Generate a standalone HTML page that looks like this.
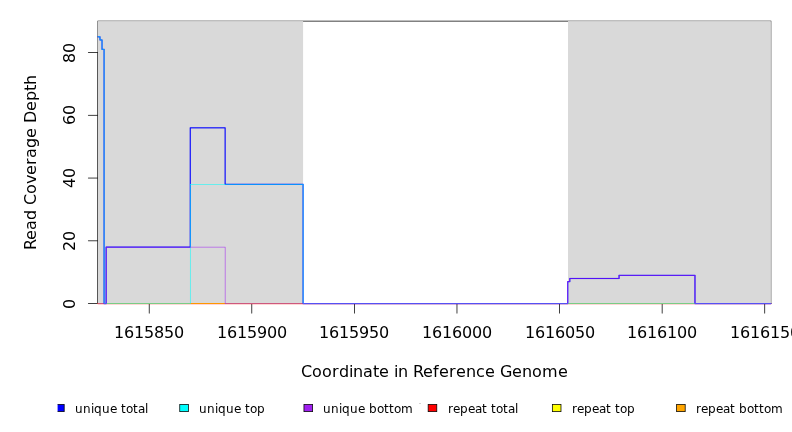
<!DOCTYPE html>
<html lang="en">
<head>
<meta charset="utf-8">
<title>Read Coverage Depth</title>
<style>
html,body{margin:0;padding:0;background:#fff;}
body{width:792px;height:432px;overflow:hidden;position:relative;font-family:"DejaVu Sans","Liberation Sans",sans-serif;}
svg{display:block;position:absolute;left:0;top:0;}
</style>
</head>
<body>
<svg width="792" height="432" viewBox="0 0 792 432">
<rect x="0" y="0" width="792" height="432" fill="#fff"/>
<g shape-rendering="crispEdges">
<path fill="#000" fill-opacity="0.067" d="M771 20h1v1h-1z"/>
<path fill="#000" fill-opacity="0.118" d="M97 20h1v1h-1z"/>
<path fill="#000" fill-opacity="0.247" d="M771 303h1v1h-1z"/>
<path fill="#000" fill-opacity="0.255" d="M98 20h673v1h-673zM771 21h1v282h-1z"/>
<path fill="#000" fill-opacity="0.294" d="M98 22h1v281h-1z"/>
<path fill="#000" fill-opacity="0.443" d="M97 303h1v1h-1z"/>
<path fill="#000" fill-opacity="0.455" d="M97 21h1v282h-1z"/>
<path fill="#000" fill-opacity="0.494" d="M99 21h671v1h-671zM770 22h1v281h-1z"/>
<path fill="#000" fill-opacity="0.643" d="M98 21h1v1h-1z"/>
<path fill="#000" fill-opacity="0.745" d="M770 21h1v1h-1z"/>
<path fill="#000" fill-opacity="0.749" d="M99 303h671v1h-671z"/>
<path fill="#000" fill-opacity="0.816" d="M98 303h1v1h-1z"/>
<path fill="#000" fill-opacity="0.863" d="M770 303h1v1h-1z"/>
<path fill="#000" fill-opacity="0.224" d="M98 52h1v1h-1z"/>
<path fill="#000" fill-opacity="0.259" d="M98 303h1v1h-1z"/>
<path fill="#000" fill-opacity="0.294" d="M98 53h1v250h-1z"/>
<path fill="#000" fill-opacity="0.365" d="M97 52h1v1h-1z"/>
<path fill="#000" fill-opacity="0.416" d="M97 303h1v1h-1z"/>
<path fill="#000" fill-opacity="0.455" d="M97 53h1v250h-1z"/>
<path fill="#000" fill-opacity="0.016" d="M87 303h1v1h-1z"/>
<path fill="#000" fill-opacity="0.161" d="M98 303h1v1h-1z"/>
<path fill="#000" fill-opacity="0.71" d="M88 303h1v1h-1z"/>
<path fill="#000" fill-opacity="0.749" d="M89 303h8v1h-8z"/>
<path fill="#000" fill-opacity="0.761" d="M97 303h1v1h-1z"/>
<path fill="#000" fill-opacity="0.016" d="M87 240h1v1h-1z"/>
<path fill="#000" fill-opacity="0.031" d="M98 241h1v1h-1z"/>
<path fill="#000" fill-opacity="0.125" d="M98 240h1v1h-1z"/>
<path fill="#000" fill-opacity="0.18" d="M88 241h1v1h-1z"/>
<path fill="#000" fill-opacity="0.2" d="M89 241h8v1h-8z"/>
<path fill="#000" fill-opacity="0.204" d="M97 241h1v1h-1z"/>
<path fill="#000" fill-opacity="0.529" d="M88 240h1v1h-1z"/>
<path fill="#000" fill-opacity="0.549" d="M89 240h8v1h-8z"/>
<path fill="#000" fill-opacity="0.557" d="M97 240h1v1h-1z"/>
<path fill="#000" fill-opacity="0.004" d="M87 177h1v1h-1z"/>
<path fill="#000" fill-opacity="0.012" d="M87 178h1v1h-1z"/>
<path fill="#000" fill-opacity="0.067" d="M98 177h1v1h-1z"/>
<path fill="#000" fill-opacity="0.094" d="M98 178h1v1h-1z"/>
<path fill="#000" fill-opacity="0.302" d="M88 177h1v1h-1z"/>
<path fill="#000" fill-opacity="0.322" d="M89 177h8v1h-8z"/>
<path fill="#000" fill-opacity="0.325" d="M97 177h1v1h-1z"/>
<path fill="#000" fill-opacity="0.408" d="M88 178h1v1h-1z"/>
<path fill="#000" fill-opacity="0.427" d="M89 178h8v1h-8z"/>
<path fill="#000" fill-opacity="0.435" d="M97 178h1v1h-1z"/>
<path fill="#000" fill-opacity="0.008" d="M98 114h1v1h-1z"/>
<path fill="#000" fill-opacity="0.016" d="M87 115h1v1h-1z"/>
<path fill="#000" fill-opacity="0.078" d="M88 114h1v1h-1z"/>
<path fill="#000" fill-opacity="0.094" d="M89 114h8v1h-8z"/>
<path fill="#000" fill-opacity="0.098" d="M97 114h1v1h-1z"/>
<path fill="#000" fill-opacity="0.153" d="M98 115h1v1h-1z"/>
<path fill="#000" fill-opacity="0.631" d="M88 115h1v1h-1z"/>
<path fill="#000" fill-opacity="0.655" d="M89 115h8v1h-8z"/>
<path fill="#000" fill-opacity="0.663" d="M97 115h1v1h-1z"/>
<path fill="#000" fill-opacity="0.016" d="M87 52h1v1h-1z"/>
<path fill="#000" fill-opacity="0.161" d="M98 52h1v1h-1z"/>
<path fill="#000" fill-opacity="0.71" d="M88 52h1v1h-1z"/>
<path fill="#000" fill-opacity="0.749" d="M89 52h8v1h-8z"/>
<path fill="#000" fill-opacity="0.761" d="M97 52h1v1h-1z"/>
<path fill="#000" fill-opacity="0.035" d="M765 303h1v1h-1z"/>
<path fill="#000" fill-opacity="0.071" d="M148 303h1v1h-1z"/>
<path fill="#000" fill-opacity="0.737" d="M764 303h1v1h-1z"/>
<path fill="#000" fill-opacity="0.749" d="M149 303h615v1h-615z"/>
<path fill="#000" fill-opacity="0.071" d="M148 313h1v1h-1z"/>
<path fill="#000" fill-opacity="0.102" d="M148 303h1v1h-1z"/>
<path fill="#000" fill-opacity="0.165" d="M148 304h1v9h-1z"/>
<path fill="#000" fill-opacity="0.31" d="M149 313h1v1h-1z"/>
<path fill="#000" fill-opacity="0.416" d="M149 303h1v1h-1z"/>
<path fill="#000" fill-opacity="0.584" d="M149 304h1v9h-1z"/>
<path fill="#000" fill-opacity="0.071" d="M252 313h1v1h-1z"/>
<path fill="#000" fill-opacity="0.106" d="M252 303h1v1h-1z"/>
<path fill="#000" fill-opacity="0.173" d="M252 304h1v9h-1z"/>
<path fill="#000" fill-opacity="0.302" d="M251 313h1v1h-1z"/>
<path fill="#000" fill-opacity="0.412" d="M251 303h1v1h-1z"/>
<path fill="#000" fill-opacity="0.58" d="M251 304h1v9h-1z"/>
<path fill="#000" fill-opacity="0.38" d="M354 313h1v1h-1z"/>
<path fill="#000" fill-opacity="0.518" d="M354 303h1v1h-1z"/>
<path fill="#000" fill-opacity="0.749" d="M354 304h1v9h-1z"/>
<path fill="#000" fill-opacity="0.173" d="M457 313h1v1h-1z"/>
<path fill="#000" fill-opacity="0.208" d="M456 313h1v1h-1z"/>
<path fill="#000" fill-opacity="0.235" d="M457 303h1v1h-1z"/>
<path fill="#000" fill-opacity="0.282" d="M456 303h1v1h-1z"/>
<path fill="#000" fill-opacity="0.345" d="M457 304h1v9h-1z"/>
<path fill="#000" fill-opacity="0.404" d="M456 304h1v9h-1z"/>
<path fill="#000" fill-opacity="0.38" d="M559 313h1v1h-1z"/>
<path fill="#000" fill-opacity="0.518" d="M559 303h1v1h-1z"/>
<path fill="#000" fill-opacity="0.749" d="M559 304h1v9h-1z"/>
<path fill="#000" fill-opacity="0.106" d="M661 313h1v1h-1z"/>
<path fill="#000" fill-opacity="0.149" d="M661 303h1v1h-1z"/>
<path fill="#000" fill-opacity="0.231" d="M661 304h1v9h-1z"/>
<path fill="#000" fill-opacity="0.271" d="M662 313h1v1h-1z"/>
<path fill="#000" fill-opacity="0.369" d="M662 303h1v1h-1z"/>
<path fill="#000" fill-opacity="0.518" d="M662 304h1v9h-1z"/>
<path fill="#000" fill-opacity="0.039" d="M765 313h1v1h-1z"/>
<path fill="#000" fill-opacity="0.059" d="M765 303h1v1h-1z"/>
<path fill="#000" fill-opacity="0.106" d="M765 304h1v9h-1z"/>
<path fill="#000" fill-opacity="0.337" d="M764 313h1v1h-1z"/>
<path fill="#000" fill-opacity="0.459" d="M764 303h1v1h-1z"/>
<path fill="#000" fill-opacity="0.647" d="M764 304h1v9h-1z"/>
<path fill="#d9d9d9" fill-opacity="0.047" d="M97 303h1v1h-1z"/>
<path fill="#d9d9d9" fill-opacity="0.055" d="M303 303h1v1h-1z"/>
<path fill="#d9d9d9" fill-opacity="0.071" d="M97 21h1v1h-1z"/>
<path fill="#d9d9d9" fill-opacity="0.078" d="M303 21h1v1h-1zM97 22h1v281h-1z"/>
<path fill="#d9d9d9" fill-opacity="0.09" d="M303 22h1v281h-1z"/>
<path fill="#d9d9d9" fill-opacity="0.6" d="M98 303h205v1h-205z"/>
<path fill="#d9d9d9" fill-opacity="0.878" d="M98 21h205v1h-205z"/>
<path fill="#d9d9d9" d="M98 22h205v281h-205z"/>
<path fill="#d9d9d9" fill-opacity="0.529" d="M770 303h1v1h-1z"/>
<path fill="#d9d9d9" fill-opacity="0.6" d="M568 303h202v1h-202z"/>
<path fill="#d9d9d9" fill-opacity="0.773" d="M770 21h1v1h-1z"/>
<path fill="#d9d9d9" fill-opacity="0.878" d="M568 21h202v1h-202zM770 22h1v281h-1z"/>
<path fill="#d9d9d9" d="M568 22h202v281h-202z"/>
<path fill="#ff0000" fill-opacity="0.024" d="M771 304h1v1h-1z"/>
<path fill="#ff0000" fill-opacity="0.055" d="M97 304h1v1h-1z"/>
<path fill="#ff0000" fill-opacity="0.161" d="M98 304h672v1h-672z"/>
<path fill="#ff0000" fill-opacity="0.165" d="M770 304h1v1h-1z"/>
<path fill="#ff0000" fill-opacity="0.341" d="M771 303h1v1h-1z"/>
<path fill="#ff0000" fill-opacity="0.522" d="M97 303h1v1h-1z"/>
<path fill="#ff0000" fill-opacity="0.961" d="M98 303h672v1h-672z"/>
<path fill="#ff0000" fill-opacity="0.973" d="M770 303h1v1h-1z"/>
<path fill="#ffff00" fill-opacity="0.051" d="M771 303h1v1h-1z"/>
<path fill="#ffff00" fill-opacity="0.149" d="M97 303h1v1h-1z"/>
<path fill="#ffff00" fill-opacity="0.525" d="M98 303h672v1h-672z"/>
<path fill="#ffff00" fill-opacity="0.529" d="M770 303h1v1h-1z"/>
<path fill="#ffa500" fill-opacity="0.051" d="M771 303h1v1h-1z"/>
<path fill="#ffa500" fill-opacity="0.149" d="M97 303h1v1h-1z"/>
<path fill="#ffa500" fill-opacity="0.525" d="M98 303h672v1h-672z"/>
<path fill="#ffa500" fill-opacity="0.529" d="M770 303h1v1h-1z"/>
<path fill="#0000ff" fill-opacity="0.004" d="M619 279h1v1h-1z"/>
<path fill="#0000ff" fill-opacity="0.016" d="M568 304h1v1h-1z"/>
<path fill="#0000ff" fill-opacity="0.024" d="M570 282h1v1h-1zM771 304h1v1h-1z"/>
<path fill="#0000ff" fill-opacity="0.031" d="M569 277h1v1h-1z"/>
<path fill="#0000ff" fill-opacity="0.035" d="M103 304h1v1h-1zM302 304h1v1h-1z"/>
<path fill="#0000ff" fill-opacity="0.051" d="M618 274h1v1h-1zM694 304h1v1h-1z"/>
<path fill="#0000ff" fill-opacity="0.055" d="M695 274h1v1h-1zM571 279h48v1h-48z"/>
<path fill="#0000ff" fill-opacity="0.067" d="M106 304h1v1h-1z"/>
<path fill="#0000ff" fill-opacity="0.071" d="M570 277h48v1h-48z"/>
<path fill="#0000ff" fill-opacity="0.075" d="M104 48h1v1h-1z"/>
<path fill="#0000ff" fill-opacity="0.102" d="M303 183h1v1h-1z"/>
<path fill="#0000ff" fill-opacity="0.129" d="M105 246h1v1h-1z"/>
<path fill="#0000ff" fill-opacity="0.161" d="M104 304h2v1h-2zM303 304h265v1h-265zM695 304h75v1h-75z"/>
<path fill="#0000ff" fill-opacity="0.165" d="M770 304h1v1h-1z"/>
<path fill="#0000ff" fill-opacity="0.173" d="M97 37h1v1h-1zM189 127h1v1h-1z"/>
<path fill="#0000ff" fill-opacity="0.192" d="M569 282h1v1h-1z"/>
<path fill="#0000ff" fill-opacity="0.196" d="M103 48h1v1h-1z"/>
<path fill="#0000ff" fill-opacity="0.212" d="M619 274h76v1h-76z"/>
<path fill="#0000ff" fill-opacity="0.231" d="M226 183h77v1h-77z"/>
<path fill="#0000ff" fill-opacity="0.243" d="M99 40h1v1h-1z"/>
<path fill="#0000ff" fill-opacity="0.275" d="M102 39h1v1h-1z"/>
<path fill="#0000ff" fill-opacity="0.31" d="M568 303h1v1h-1z"/>
<path fill="#0000ff" fill-opacity="0.318" d="M224 184h1v1h-1zM189 128h1v118h-1z"/>
<path fill="#0000ff" fill-opacity="0.325" d="M568 283h1v20h-1z"/>
<path fill="#0000ff" fill-opacity="0.329" d="M100 36h1v1h-1z"/>
<path fill="#0000ff" fill-opacity="0.341" d="M771 303h1v1h-1z"/>
<path fill="#0000ff" fill-opacity="0.361" d="M570 281h1v1h-1z"/>
<path fill="#0000ff" fill-opacity="0.376" d="M98 37h1v1h-1zM570 280h1v1h-1z"/>
<path fill="#0000ff" fill-opacity="0.396" d="M191 128h33v1h-33z"/>
<path fill="#0000ff" fill-opacity="0.408" d="M97 36h1v1h-1z"/>
<path fill="#0000ff" fill-opacity="0.412" d="M570 279h1v1h-1z"/>
<path fill="#0000ff" fill-opacity="0.435" d="M225 127h1v1h-1z"/>
<path fill="#0000ff" fill-opacity="0.439" d="M101 49h1v1h-1zM224 129h1v55h-1zM105 247h1v56h-1z"/>
<path fill="#0000ff" fill-opacity="0.455" d="M568 282h1v1h-1zM302 303h1v1h-1z"/>
<path fill="#0000ff" fill-opacity="0.459" d="M106 246h83v1h-83z"/>
<path fill="#0000ff" fill-opacity="0.467" d="M103 303h1v1h-1z"/>
<path fill="#0000ff" fill-opacity="0.475" d="M190 247h1v1h-1zM302 185h1v118h-1z"/>
<path fill="#0000ff" fill-opacity="0.49" d="M103 50h1v253h-1z"/>
<path fill="#0000ff" fill-opacity="0.494" d="M618 275h1v1h-1z"/>
<path fill="#0000ff" fill-opacity="0.506" d="M618 276h1v1h-1z"/>
<path fill="#0000ff" fill-opacity="0.514" d="M100 40h1v1h-1z"/>
<path fill="#0000ff" fill-opacity="0.518" d="M695 275h1v1h-1z"/>
<path fill="#0000ff" fill-opacity="0.529" d="M100 37h1v2h-1z"/>
<path fill="#0000ff" fill-opacity="0.533" d="M695 276h1v27h-1z"/>
<path fill="#0000ff" fill-opacity="0.541" d="M101 41h1v8h-1zM618 277h1v1h-1z"/>
<path fill="#0000ff" fill-opacity="0.569" d="M619 278h1v1h-1z"/>
<path fill="#0000ff" fill-opacity="0.573" d="M694 303h1v1h-1z"/>
<path fill="#0000ff" fill-opacity="0.584" d="M102 40h1v8h-1z"/>
<path fill="#0000ff" fill-opacity="0.592" d="M99 38h1v2h-1zM694 276h1v27h-1z"/>
<path fill="#0000ff" fill-opacity="0.612" d="M101 39h1v1h-1z"/>
<path fill="#0000ff" fill-opacity="0.62" d="M619 276h1v2h-1z"/>
<path fill="#0000ff" fill-opacity="0.624" d="M104 49h1v1h-1z"/>
<path fill="#0000ff" fill-opacity="0.631" d="M189 246h1v1h-1z"/>
<path fill="#0000ff" fill-opacity="0.635" d="M104 50h1v253h-1z"/>
<path fill="#0000ff" fill-opacity="0.639" d="M303 184h1v1h-1z"/>
<path fill="#0000ff" fill-opacity="0.651" d="M303 185h1v118h-1z"/>
<path fill="#0000ff" fill-opacity="0.663" d="M102 48h1v1h-1zM224 128h1v1h-1zM106 303h1v1h-1z"/>
<path fill="#0000ff" fill-opacity="0.667" d="M107 247h83v1h-83zM567 281h1v1h-1z"/>
<path fill="#0000ff" fill-opacity="0.686" d="M225 128h1v55h-1zM106 248h1v55h-1z"/>
<path fill="#0000ff" fill-opacity="0.706" d="M569 278h1v1h-1z"/>
<path fill="#0000ff" fill-opacity="0.725" d="M190 127h1v1h-1z"/>
<path fill="#0000ff" fill-opacity="0.729" d="M191 127h34v1h-34z"/>
<path fill="#0000ff" fill-opacity="0.745" d="M99 37h1v1h-1z"/>
<path fill="#0000ff" fill-opacity="0.749" d="M98 36h2v1h-2zM569 279h1v2h-1z"/>
<path fill="#0000ff" fill-opacity="0.761" d="M225 183h1v1h-1z"/>
<path fill="#0000ff" fill-opacity="0.776" d="M101 40h1v1h-1z"/>
<path fill="#0000ff" fill-opacity="0.8" d="M567 282h1v21h-1z"/>
<path fill="#0000ff" fill-opacity="0.808" d="M190 129h1v118h-1z"/>
<path fill="#0000ff" fill-opacity="0.816" d="M100 39h1v1h-1z"/>
<path fill="#0000ff" fill-opacity="0.882" d="M190 128h1v1h-1z"/>
<path fill="#0000ff" fill-opacity="0.89" d="M225 184h1v1h-1z"/>
<path fill="#0000ff" fill-opacity="0.894" d="M226 184h76v1h-76zM106 247h1v1h-1z"/>
<path fill="#0000ff" fill-opacity="0.914" d="M620 275h74v1h-74z"/>
<path fill="#0000ff" fill-opacity="0.929" d="M102 49h1v1h-1z"/>
<path fill="#0000ff" fill-opacity="0.933" d="M568 281h1v1h-1z"/>
<path fill="#0000ff" fill-opacity="0.945" d="M302 184h1v1h-1z"/>
<path fill="#0000ff" fill-opacity="0.961" d="M304 303h263v1h-263zM696 303h74v1h-74z"/>
<path fill="#0000ff" fill-opacity="0.965" d="M103 49h1v1h-1zM694 275h1v1h-1z"/>
<path fill="#0000ff" fill-opacity="0.969" d="M619 275h1v1h-1z"/>
<path fill="#0000ff" fill-opacity="0.973" d="M770 303h1v1h-1z"/>
<path fill="#0000ff" fill-opacity="0.98" d="M105 303h1v1h-1z"/>
<path fill="#0000ff" fill-opacity="0.984" d="M569 281h1v1h-1zM695 303h1v1h-1z"/>
<path fill="#0000ff" fill-opacity="0.988" d="M104 303h1v1h-1zM303 303h1v1h-1z"/>
<path fill="#0000ff" fill-opacity="0.992" d="M567 303h1v1h-1z"/>
<path fill="#0000ff" d="M570 278h49v1h-49z"/>
<path fill="#00ffff" fill-opacity="0.012" d="M189 184h1v1h-1z"/>
<path fill="#00ffff" fill-opacity="0.016" d="M97 37h1v1h-1z"/>
<path fill="#00ffff" fill-opacity="0.02" d="M189 185h1v118h-1z"/>
<path fill="#00ffff" fill-opacity="0.051" d="M99 40h1v1h-1zM771 303h1v1h-1z"/>
<path fill="#00ffff" fill-opacity="0.075" d="M98 37h1v1h-1zM102 39h1v1h-1z"/>
<path fill="#00ffff" fill-opacity="0.094" d="M100 36h1v1h-1z"/>
<path fill="#00ffff" fill-opacity="0.129" d="M97 36h1v1h-1zM302 303h1v1h-1z"/>
<path fill="#00ffff" fill-opacity="0.137" d="M101 49h1v1h-1z"/>
<path fill="#00ffff" fill-opacity="0.149" d="M103 303h1v1h-1z"/>
<path fill="#00ffff" fill-opacity="0.173" d="M302 185h1v118h-1z"/>
<path fill="#00ffff" fill-opacity="0.192" d="M103 50h1v253h-1z"/>
<path fill="#00ffff" fill-opacity="0.216" d="M100 40h1v1h-1z"/>
<path fill="#00ffff" fill-opacity="0.231" d="M100 37h1v2h-1z"/>
<path fill="#00ffff" fill-opacity="0.243" d="M101 41h1v8h-1z"/>
<path fill="#00ffff" fill-opacity="0.282" d="M102 40h1v9h-1zM104 49h1v1h-1z"/>
<path fill="#00ffff" fill-opacity="0.294" d="M99 38h1v2h-1z"/>
<path fill="#00ffff" fill-opacity="0.31" d="M101 39h1v1h-1z"/>
<path fill="#00ffff" fill-opacity="0.314" d="M303 184h1v1h-1z"/>
<path fill="#00ffff" fill-opacity="0.333" d="M104 50h1v253h-1z"/>
<path fill="#00ffff" fill-opacity="0.349" d="M99 37h1v1h-1z"/>
<path fill="#00ffff" fill-opacity="0.353" d="M303 185h1v118h-1z"/>
<path fill="#00ffff" fill-opacity="0.404" d="M101 40h1v1h-1z"/>
<path fill="#00ffff" fill-opacity="0.42" d="M190 303h1v1h-1z"/>
<path fill="#00ffff" fill-opacity="0.451" d="M98 36h2v1h-2z"/>
<path fill="#00ffff" fill-opacity="0.471" d="M100 39h1v1h-1z"/>
<path fill="#00ffff" fill-opacity="0.506" d="M190 185h1v118h-1z"/>
<path fill="#00ffff" fill-opacity="0.525" d="M191 184h111v1h-111zM105 303h84v1h-84zM304 303h466v1h-466z"/>
<path fill="#00ffff" fill-opacity="0.529" d="M189 303h1v1h-1zM770 303h1v1h-1z"/>
<path fill="#00ffff" fill-opacity="0.553" d="M102 49h1v1h-1z"/>
<path fill="#00ffff" fill-opacity="0.596" d="M103 49h1v1h-1zM302 184h1v1h-1z"/>
<path fill="#00ffff" fill-opacity="0.635" d="M104 303h1v1h-1z"/>
<path fill="#00ffff" fill-opacity="0.643" d="M303 303h1v1h-1z"/>
<path fill="#00ffff" fill-opacity="0.722" d="M190 184h1v1h-1z"/>
<path fill="#a020f0" fill-opacity="0.012" d="M105 246h1v1h-1z"/>
<path fill="#a020f0" fill-opacity="0.016" d="M568 303h1v1h-1z"/>
<path fill="#a020f0" fill-opacity="0.024" d="M568 282h1v21h-1z"/>
<path fill="#a020f0" fill-opacity="0.051" d="M225 246h1v1h-1zM771 303h1v1h-1z"/>
<path fill="#a020f0" fill-opacity="0.063" d="M570 281h1v1h-1z"/>
<path fill="#a020f0" fill-opacity="0.078" d="M570 279h1v2h-1z"/>
<path fill="#a020f0" fill-opacity="0.106" d="M224 303h1v1h-1z"/>
<path fill="#a020f0" fill-opacity="0.137" d="M105 247h1v56h-1zM224 248h1v55h-1z"/>
<path fill="#a020f0" fill-opacity="0.149" d="M97 303h1v1h-1z"/>
<path fill="#a020f0" fill-opacity="0.157" d="M106 246h119v1h-119z"/>
<path fill="#a020f0" fill-opacity="0.169" d="M618 275h1v1h-1z"/>
<path fill="#a020f0" fill-opacity="0.2" d="M695 275h1v1h-1z"/>
<path fill="#a020f0" fill-opacity="0.208" d="M618 276h1v2h-1z"/>
<path fill="#a020f0" fill-opacity="0.227" d="M619 278h1v1h-1z"/>
<path fill="#a020f0" fill-opacity="0.231" d="M695 276h1v27h-1z"/>
<path fill="#a020f0" fill-opacity="0.235" d="M694 303h1v1h-1z"/>
<path fill="#a020f0" fill-opacity="0.294" d="M694 276h1v27h-1z"/>
<path fill="#a020f0" fill-opacity="0.306" d="M567 281h1v1h-1z"/>
<path fill="#a020f0" fill-opacity="0.318" d="M619 276h1v2h-1zM106 303h1v1h-1z"/>
<path fill="#a020f0" fill-opacity="0.333" d="M569 278h1v1h-1z"/>
<path fill="#a020f0" fill-opacity="0.365" d="M107 247h117v1h-117z"/>
<path fill="#a020f0" fill-opacity="0.384" d="M106 248h1v55h-1z"/>
<path fill="#a020f0" fill-opacity="0.388" d="M225 247h1v56h-1z"/>
<path fill="#a020f0" fill-opacity="0.447" d="M569 279h1v2h-1z"/>
<path fill="#a020f0" fill-opacity="0.455" d="M224 247h1v1h-1z"/>
<path fill="#a020f0" fill-opacity="0.498" d="M567 282h1v21h-1z"/>
<path fill="#a020f0" fill-opacity="0.525" d="M620 275h74v1h-74zM571 278h47v1h-47zM98 303h7v1h-7zM226 303h341v1h-341zM696 303h74v1h-74z"/>
<path fill="#a020f0" fill-opacity="0.529" d="M568 281h1v1h-1zM770 303h1v1h-1z"/>
<path fill="#a020f0" fill-opacity="0.545" d="M570 278h1v1h-1z"/>
<path fill="#a020f0" fill-opacity="0.573" d="M618 278h1v1h-1zM105 303h1v1h-1z"/>
<path fill="#a020f0" fill-opacity="0.604" d="M695 303h1v1h-1z"/>
<path fill="#a020f0" fill-opacity="0.612" d="M106 247h1v1h-1z"/>
<path fill="#a020f0" fill-opacity="0.639" d="M694 275h1v1h-1z"/>
<path fill="#a020f0" fill-opacity="0.647" d="M619 275h1v1h-1z"/>
<path fill="#a020f0" fill-opacity="0.651" d="M225 303h1v1h-1z"/>
<path fill="#a020f0" fill-opacity="0.682" d="M569 281h1v1h-1zM567 303h1v1h-1z"/>
<path fill="#0000ff" fill-opacity="0.114" d="M64 404h1v1h-1zM64 411h1v1h-1z"/>
<path fill="#0000ff" fill-opacity="0.188" d="M64 405h1v6h-1z"/>
<path fill="#0000ff" fill-opacity="0.239" d="M57 404h1v1h-1zM57 411h1v1h-1z"/>
<path fill="#0000ff" fill-opacity="0.4" d="M57 405h1v6h-1z"/>
<path fill="#0000ff" fill-opacity="0.6" d="M58 404h6v1h-6zM58 411h6v1h-6z"/>
<path fill="#0000ff" d="M58 405h6v6h-6z"/>
<path fill="#000" fill-opacity="0.184" d="M63 405h1v6h-1z"/>
<path fill="#000" fill-opacity="0.298" d="M57 404h1v1h-1zM57 411h1v1h-1z"/>
<path fill="#000" fill-opacity="0.549" d="M64 404h1v1h-1zM64 411h1v1h-1z"/>
<path fill="#000" fill-opacity="0.565" d="M64 405h1v6h-1z"/>
<path fill="#000" fill-opacity="0.749" d="M58 404h5v1h-5zM58 411h5v1h-5z"/>
<path fill="#000" fill-opacity="0.792" d="M63 404h1v1h-1zM63 411h1v1h-1z"/>
<path fill="#00ffff" fill-opacity="0.149" d="M179 404h1v1h-1zM179 411h1v1h-1z"/>
<path fill="#00ffff" fill-opacity="0.235" d="M188 404h1v1h-1zM188 411h1v1h-1z"/>
<path fill="#00ffff" fill-opacity="0.251" d="M179 405h1v6h-1z"/>
<path fill="#00ffff" fill-opacity="0.388" d="M188 405h1v6h-1z"/>
<path fill="#00ffff" fill-opacity="0.6" d="M180 404h8v1h-8zM180 411h8v1h-8z"/>
<path fill="#00ffff" d="M180 405h8v6h-8z"/>
<path fill="#000" fill-opacity="0.125" d="M180 405h1v6h-1z"/>
<path fill="#000" fill-opacity="0.608" d="M179 404h1v1h-1zM179 411h1v1h-1z"/>
<path fill="#000" fill-opacity="0.624" d="M179 405h1v6h-1z"/>
<path fill="#000" fill-opacity="0.741" d="M188 404h1v1h-1zM188 411h1v1h-1z"/>
<path fill="#000" fill-opacity="0.749" d="M181 404h7v1h-7zM188 405h1v6h-1zM181 411h7v1h-7z"/>
<path fill="#000" fill-opacity="0.776" d="M180 404h1v1h-1zM180 411h1v1h-1z"/>
<path fill="#a020f0" fill-opacity="0.031" d="M303 404h1v1h-1zM303 411h1v1h-1z"/>
<path fill="#a020f0" fill-opacity="0.051" d="M303 405h1v6h-1z"/>
<path fill="#a020f0" fill-opacity="0.353" d="M312 404h1v1h-1zM312 411h1v1h-1z"/>
<path fill="#a020f0" fill-opacity="0.588" d="M312 405h1v6h-1z"/>
<path fill="#a020f0" fill-opacity="0.6" d="M304 404h8v1h-8zM304 411h8v1h-8z"/>
<path fill="#a020f0" d="M304 405h8v6h-8z"/>
<path fill="#000" fill-opacity="0.325" d="M304 405h1v6h-1z"/>
<path fill="#000" fill-opacity="0.416" d="M303 404h1v1h-1zM303 411h1v1h-1z"/>
<path fill="#000" fill-opacity="0.424" d="M303 405h1v6h-1z"/>
<path fill="#000" fill-opacity="0.749" d="M305 404h7v1h-7zM312 405h1v6h-1zM305 411h7v1h-7z"/>
<path fill="#000" fill-opacity="0.824" d="M304 404h1v1h-1zM304 411h1v1h-1z"/>
<path fill="#000" fill-opacity="0.894" d="M312 404h1v1h-1zM312 411h1v1h-1z"/>
<path fill="#ff0000" fill-opacity="0.475" d="M436 404h1v1h-1zM436 411h1v1h-1z"/>
<path fill="#ff0000" fill-opacity="0.51" d="M428 404h1v1h-1zM428 411h1v1h-1z"/>
<path fill="#ff0000" fill-opacity="0.6" d="M429 404h7v1h-7zM429 411h7v1h-7z"/>
<path fill="#ff0000" fill-opacity="0.788" d="M436 405h1v6h-1z"/>
<path fill="#ff0000" fill-opacity="0.851" d="M428 405h1v6h-1z"/>
<path fill="#ff0000" d="M429 405h7v6h-7z"/>
<path fill="#000" fill-opacity="0.161" d="M437 404h1v1h-1zM437 411h1v1h-1z"/>
<path fill="#000" fill-opacity="0.165" d="M437 405h1v6h-1z"/>
<path fill="#000" fill-opacity="0.22" d="M427 404h1v1h-1zM427 411h1v1h-1z"/>
<path fill="#000" fill-opacity="0.224" d="M427 405h1v6h-1z"/>
<path fill="#000" fill-opacity="0.525" d="M428 405h1v6h-1z"/>
<path fill="#000" fill-opacity="0.584" d="M436 405h1v6h-1z"/>
<path fill="#000" fill-opacity="0.749" d="M429 404h7v1h-7zM429 411h7v1h-7z"/>
<path fill="#000" fill-opacity="0.867" d="M428 404h1v1h-1zM428 411h1v1h-1z"/>
<path fill="#000" fill-opacity="0.882" d="M436 404h1v1h-1zM436 411h1v1h-1z"/>
<path fill="#ffff00" fill-opacity="0.388" d="M552 404h1v1h-1zM552 411h1v1h-1z"/>
<path fill="#ffff00" fill-opacity="0.592" d="M560 404h1v1h-1zM560 411h1v1h-1z"/>
<path fill="#ffff00" fill-opacity="0.6" d="M553 404h7v1h-7zM553 411h7v1h-7z"/>
<path fill="#ffff00" fill-opacity="0.651" d="M552 405h1v6h-1z"/>
<path fill="#ffff00" fill-opacity="0.988" d="M560 405h1v6h-1z"/>
<path fill="#ffff00" d="M553 405h7v6h-7z"/>
<path fill="#000" fill-opacity="0.024" d="M551 404h1v8h-1z"/>
<path fill="#000" fill-opacity="0.357" d="M561 404h1v1h-1zM561 411h1v1h-1z"/>
<path fill="#000" fill-opacity="0.365" d="M561 405h1v6h-1z"/>
<path fill="#000" fill-opacity="0.384" d="M560 405h1v6h-1z"/>
<path fill="#000" fill-opacity="0.725" d="M552 405h1v6h-1z"/>
<path fill="#000" fill-opacity="0.749" d="M553 404h7v1h-7zM553 411h7v1h-7z"/>
<path fill="#000" fill-opacity="0.835" d="M560 404h1v1h-1zM560 411h1v1h-1z"/>
<path fill="#000" fill-opacity="0.914" d="M552 404h1v1h-1zM552 411h1v1h-1z"/>
<path fill="#ffa500" fill-opacity="0.114" d="M685 404h1v1h-1zM685 411h1v1h-1z"/>
<path fill="#ffa500" fill-opacity="0.188" d="M685 405h1v6h-1z"/>
<path fill="#ffa500" fill-opacity="0.271" d="M676 404h1v1h-1zM676 411h1v1h-1z"/>
<path fill="#ffa500" fill-opacity="0.451" d="M676 405h1v6h-1z"/>
<path fill="#ffa500" fill-opacity="0.6" d="M677 404h8v1h-8zM677 411h8v1h-8z"/>
<path fill="#ffa500" d="M677 405h8v6h-8z"/>
<path fill="#000" fill-opacity="0.184" d="M684 405h1v6h-1z"/>
<path fill="#000" fill-opacity="0.549" d="M685 404h1v1h-1zM685 411h1v1h-1z"/>
<path fill="#000" fill-opacity="0.565" d="M685 405h1v6h-1z"/>
<path fill="#000" fill-opacity="0.749" d="M677 404h7v1h-7zM676 405h1v6h-1zM677 411h7v1h-7z"/>
<path fill="#000" fill-opacity="0.788" d="M676 404h1v1h-1zM676 411h1v1h-1z"/>
<path fill="#000" fill-opacity="0.792" d="M684 404h1v1h-1zM684 411h1v1h-1z"/>
<path fill="#000" fill-opacity="0.169" d="M419 403h2v1h-2z"/>
</g>
<g font-family="'DejaVu Sans', 'Liberation Sans', sans-serif" fill="#000">
<text x="114 124 134 144 154 164 174" y="337.6" font-size="16">1615850</text>
<text x="217 227 237 247 257 267 277" y="337.6" font-size="16">1615900</text>
<text x="319 329 339 349 359 369 379" y="337.6" font-size="16">1615950</text>
<text x="422 432 442 452 462 472 482" y="337.6" font-size="16">1616000</text>
<text x="525 535 545 555 565 575 585" y="337.6" font-size="16">1616050</text>
<text x="627 637 647 657 667 677 687" y="337.6" font-size="16">1616100</text>
<text x="730 740 750 760 770 780 790" y="337.6" font-size="16">1616150</text>
<text transform="translate(75.2,309) rotate(-90)" x="0" y="0" font-size="16">0</text>
<text transform="translate(75.2,251) rotate(-90)" x="0 10" y="0" font-size="16">20</text>
<text transform="translate(75.2,188) rotate(-90)" x="0 10" y="0" font-size="16">40</text>
<text transform="translate(75.2,125) rotate(-90)" x="0 10" y="0" font-size="16">60</text>
<text transform="translate(75.2,63) rotate(-90)" x="0 10" y="0" font-size="16">80</text>
<text x="301 312 322 332 339 349 353 363 373 379 389 394 398 408 413 423 433 439 449 456 466 476 485 495 500 512 522 532 542 558" y="377" font-size="16">Coordinate in Reference Genome</text>
<text transform="translate(35.8,250) rotate(-90)" x="0 10 20 30 40 45 56 66 75 85 92 102 112 122 127 139 149 159 165" y="0" font-size="16">Read Coverage Depth</text>
<text x="75 83 91 94 102 110 117 121 126 133 138 145" y="412.5" font-size="12">unique total</text>
<text x="199 207 215 218 226 234 241 245 250 257" y="412.5" font-size="12">unique top</text>
<text x="323 331 339 342 350 358 365 369 377 384 389 394 401" y="412.5" font-size="12">unique bottom</text>
<text x="448 453 460 468 475 482 487 491 496 503 508 515" y="412.5" font-size="12">repeat total</text>
<text x="572 577 584 592 599 606 611 615 620 627" y="412.5" font-size="12">repeat top</text>
<text x="696 701 708 716 723 730 735 739 747 754 759 764 771" y="412.5" font-size="12">repeat bottom</text>
</g>
</svg>
</body>
</html>
